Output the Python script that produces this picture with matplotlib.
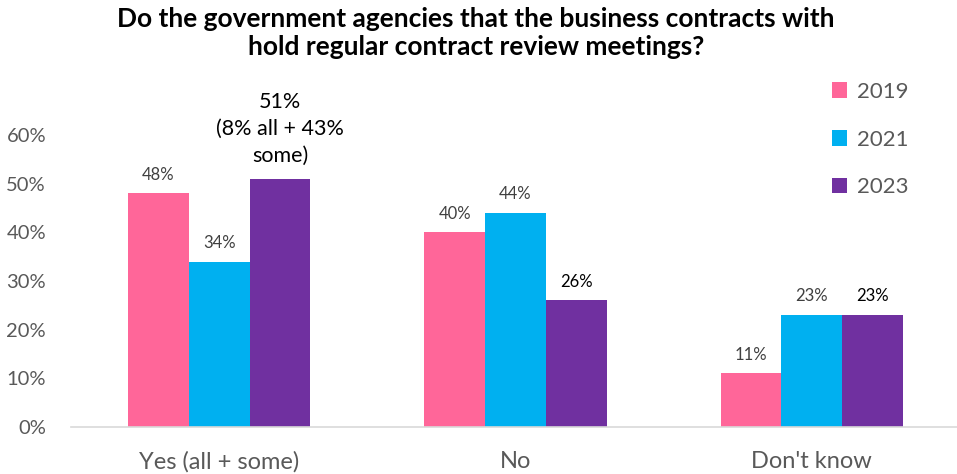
import matplotlib
matplotlib.use("Agg")
import matplotlib.pyplot as plt
import numpy as np

categories = ["Yes (all + some)", "No", "Don't know"]
years = ["2019", "2021", "2023"]
values_2019 = [48, 40, 11]
values_2021 = [34, 44, 23]
values_2023 = [51, 26, 23]
yticks = [0, 10, 20, 30, 40, 50, 60]
yes_2023_label = "51%\n(8% all + 43%\nsome)"

colors = ["#FF6699", "#00B0F0", "#7030A0"]
plt.rcParams['font.family'] = ['Lato', 'DejaVu Sans']

fig = plt.figure(figsize=(9.57, 4.74), dpi=100)
ax = fig.add_axes([71/957, 1-427/474, 889/957, (427-135)/474])

series = [values_2019, values_2021, values_2023]
x = np.arange(len(categories))
w = 0.205
for i, (vals, c, yr) in enumerate(zip(series, colors, years)):
    pos = x + (i - 1) * w
    ax.bar(pos, vals, width=w, color=c, label=yr, zorder=2)
    for j, (p, v) in enumerate(zip(pos, vals)):
        if i == 2 and j == 0:
            ax.text(p, v + 2.6, yes_2023_label, ha='center', va='bottom', fontsize=15.5,
                    color='black', linespacing=1.45, clip_on=False)
        else:
            col = '#000000' if i == 2 else '#404040'
            ax.text(p, v + 2.2, f"{v}%", ha='center', va='bottom', fontsize=12,
                    color=col)

ax.set_xlim(-0.5, 2.5)
ax.set_ylim(0, 60)
ax.set_yticks(yticks)
ax.set_yticklabels([f"{t}%" for t in yticks], fontsize=14.5, color='#595959')
ax.set_xticks(x)
ax.set_xticklabels(categories, fontsize=17, color='#595959')
ax.tick_params(axis='y', length=0, pad=18)
ax.tick_params(axis='x', length=0, pad=17)
for s in ['top', 'right', 'left']:
    ax.spines[s].set_visible(False)
ax.spines['bottom'].set_color('#D9D9D9')
ax.spines['bottom'].set_linewidth(1.2)

leg = fig.legend(loc='upper left', bbox_to_anchor=(823/957, 1-73/474), frameon=False,
                 fontsize=16, handlelength=0.7, handleheight=0.7, handletextpad=0.45,
                 labelspacing=1.25, borderaxespad=0)
for t in leg.get_texts():
    t.set_color('#595959')

fig.text(476/957, 1-7/474, "Do the government agencies that the business contracts with\nhold regular contract review meetings?",
         ha='center', va='top', fontsize=19, fontweight='bold', linespacing=1.2)

fig.savefig("out.png", dpi=100)
